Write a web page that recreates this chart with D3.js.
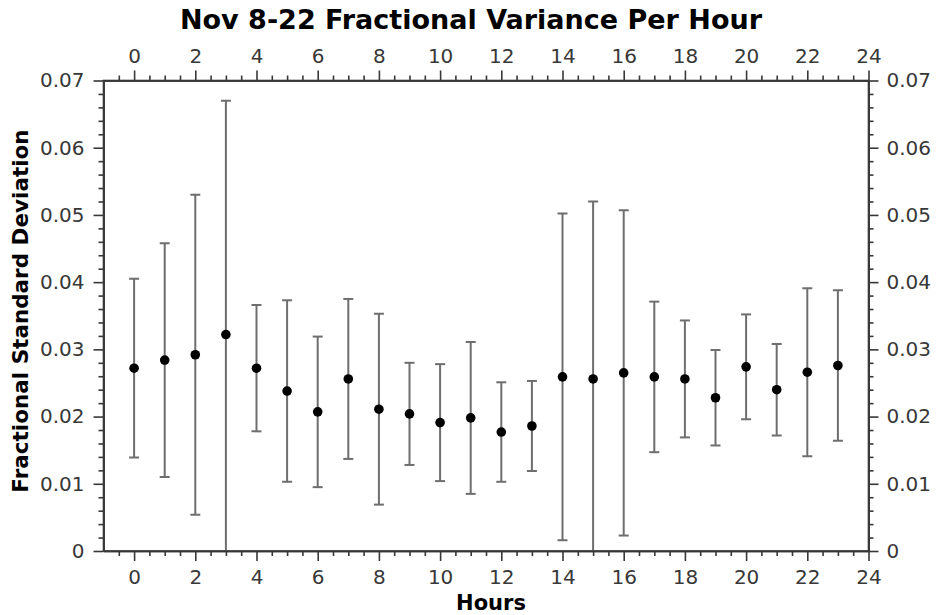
<!DOCTYPE html>
<html>
<head>
<meta charset="utf-8">
<script src="https://cdn.jsdelivr.net/npm/d3@7"></script>
<style>
  html, body { margin: 0; padding: 0; background: #fff; }
  svg text { font-family: "DejaVu Sans", sans-serif; }
</style>
</head>
<body>
<svg id="chart" width="936" height="615"></svg>
<script>
// Hour of day (x), mean fractional standard deviation and its error
const hours = [0, 1, 2, 3, 4, 5, 6, 7, 8, 9, 10, 11, 12, 13, 14, 15, 16, 17, 18, 19, 20, 21, 22, 23];
const meanValues = [0.0272, 0.0284, 0.0292, 0.0322, 0.0272, 0.0238, 0.0207, 0.0256, 0.0211, 0.0204, 0.0191, 0.0198,
                    0.0177, 0.0186, 0.0259, 0.0256, 0.0265, 0.0259, 0.0256, 0.0228, 0.0274, 0.0240, 0.0266, 0.0276];
const errValues = [0.0133, 0.0174, 0.0238, 0.0348, 0.0094, 0.0135, 0.0112, 0.0119, 0.0142, 0.0076, 0.0087, 0.0113,
                   0.0074, 0.0067, 0.0243, 0.0264, 0.0242, 0.0112, 0.0087, 0.0071, 0.0078, 0.0068, 0.0125, 0.0112];
const xTicks = [0, 2, 4, 6, 8, 10, 12, 14, 16, 18, 20, 22, 24];
const yTicks = [0, 0.01, 0.02, 0.03, 0.04, 0.05, 0.06, 0.07];
const yTickLabels = ["0", "0.01", "0.02", "0.03", "0.04", "0.05", "0.06", "0.07"];

const svg = d3.select("#chart");
const plotLeft = 103.5, plotRight = 868.5, plotTop = 80.5, plotBottom = 551;

const x = d3.scaleLinear().domain([-1, 24]).range([plotLeft, plotRight]);
const y = d3.scaleLinear().domain([0, 0.07]).range([plotBottom, plotTop]);

const axisColor = "#383838";
const fontSize = 20;

function styleAxis(g) {
  g.selectAll("path, line").attr("stroke", axisColor).attr("stroke-width", 1.6);
  g.selectAll("text").attr("fill", axisColor).style("font-size", fontSize + "px");
}

const xMinor = d3.range(-0.5, 24.01, 0.5).filter(v => !xTicks.includes(v));
const yMinor = d3.range(0, 0.0701, 0.002).filter(v => Math.abs(Math.round(v * 100) - v * 100) > 1e-6);

// minor ticks first
svg.append("g").attr("transform", `translate(0,${plotBottom})`)
  .call(d3.axisBottom(x).tickValues(xMinor).tickFormat("").tickSize(5).tickSizeOuter(0)).call(styleAxis);
svg.append("g").attr("transform", `translate(0,${plotTop})`)
  .call(d3.axisTop(x).tickValues(xMinor).tickFormat("").tickSize(5).tickSizeOuter(0)).call(styleAxis);
svg.append("g").attr("transform", `translate(${plotLeft},0)`)
  .call(d3.axisLeft(y).tickValues(yMinor).tickFormat("").tickSize(5).tickSizeOuter(0)).call(styleAxis);
svg.append("g").attr("transform", `translate(${plotRight},0)`)
  .call(d3.axisRight(y).tickValues(yMinor).tickFormat("").tickSize(5).tickSizeOuter(0)).call(styleAxis);

// major ticks with labels
svg.append("g").attr("transform", `translate(0,${plotBottom})`)
  .call(d3.axisBottom(x).tickValues(xTicks).tickFormat(d3.format("d")).tickSize(10).tickSizeOuter(0).tickPadding(9))
  .call(styleAxis);
svg.append("g").attr("transform", `translate(0,${plotTop})`)
  .call(d3.axisTop(x).tickValues(xTicks).tickFormat(d3.format("d")).tickSize(10).tickSizeOuter(0).tickPadding(8))
  .call(styleAxis);
svg.append("g").attr("transform", `translate(${plotLeft},0)`)
  .call(d3.axisLeft(y).tickValues(yTicks).tickFormat((d, i) => yTickLabels[i]).tickSize(10).tickSizeOuter(0).tickPadding(9))
  .call(styleAxis);
svg.append("g").attr("transform", `translate(${plotRight},0)`)
  .call(d3.axisRight(y).tickValues(yTicks).tickFormat((d, i) => yTickLabels[i]).tickSize(10).tickSizeOuter(0).tickPadding(8))
  .call(styleAxis);

// clip region for the error bars
svg.append("defs").append("clipPath").attr("id", "plot-clip")
  .append("rect").attr("x", plotLeft).attr("y", plotTop)
  .attr("width", plotRight - plotLeft).attr("height", plotBottom - plotTop);

const plot = svg.append("g").attr("clip-path", "url(#plot-clip)");
const barColor = "#6e6e6e";
const capHalf = 5;

const bars = plot.selectAll("g.err").data(hours).join("g").attr("class", "err");
bars.append("line")
  .attr("x1", (d) => x(d)).attr("x2", (d) => x(d))
  .attr("y1", (d, i) => y(meanValues[i] + errValues[i]))
  .attr("y2", (d, i) => y(meanValues[i] - errValues[i]))
  .attr("stroke", barColor).attr("stroke-width", 2);
bars.append("line")
  .attr("x1", (d) => x(d) - capHalf).attr("x2", (d) => x(d) + capHalf)
  .attr("y1", (d, i) => y(meanValues[i] + errValues[i]))
  .attr("y2", (d, i) => y(meanValues[i] + errValues[i]))
  .attr("stroke", barColor).attr("stroke-width", 2);
bars.append("line")
  .attr("x1", (d) => x(d) - capHalf).attr("x2", (d) => x(d) + capHalf)
  .attr("y1", (d, i) => y(meanValues[i] - errValues[i]))
  .attr("y2", (d, i) => y(meanValues[i] - errValues[i]))
  .attr("stroke", barColor).attr("stroke-width", 2);

svg.append("g").selectAll("circle").data(hours).join("circle")
  .attr("cx", (d) => x(d))
  .attr("cy", (d, i) => y(meanValues[i]))
  .attr("r", 4.8)
  .attr("fill", "#000");

// frame lines across the plot
svg.append("rect").attr("x", plotLeft).attr("y", plotTop)
  .attr("width", plotRight - plotLeft).attr("height", plotBottom - plotTop)
  .attr("fill", "none").attr("stroke", axisColor).attr("stroke-width", 1.6);

// titles
svg.append("text").attr("x", 471).attr("y", 29).attr("text-anchor", "middle")
  .style("font-size", "27px").style("font-weight", "bold").attr("fill", "#000")
  .text("Nov 8-22 Fractional Variance Per Hour");
svg.append("text").attr("x", 491).attr("y", 610).attr("text-anchor", "middle")
  .style("font-size", "21px").style("font-weight", "bold").attr("fill", "#000")
  .text("Hours");
svg.append("text").attr("transform", "translate(28,311) rotate(-90)").attr("text-anchor", "middle")
  .style("font-size", "21.5px").style("font-weight", "bold").attr("fill", "#000")
  .text("Fractional Standard Deviation");
</script>
</body>
</html>
